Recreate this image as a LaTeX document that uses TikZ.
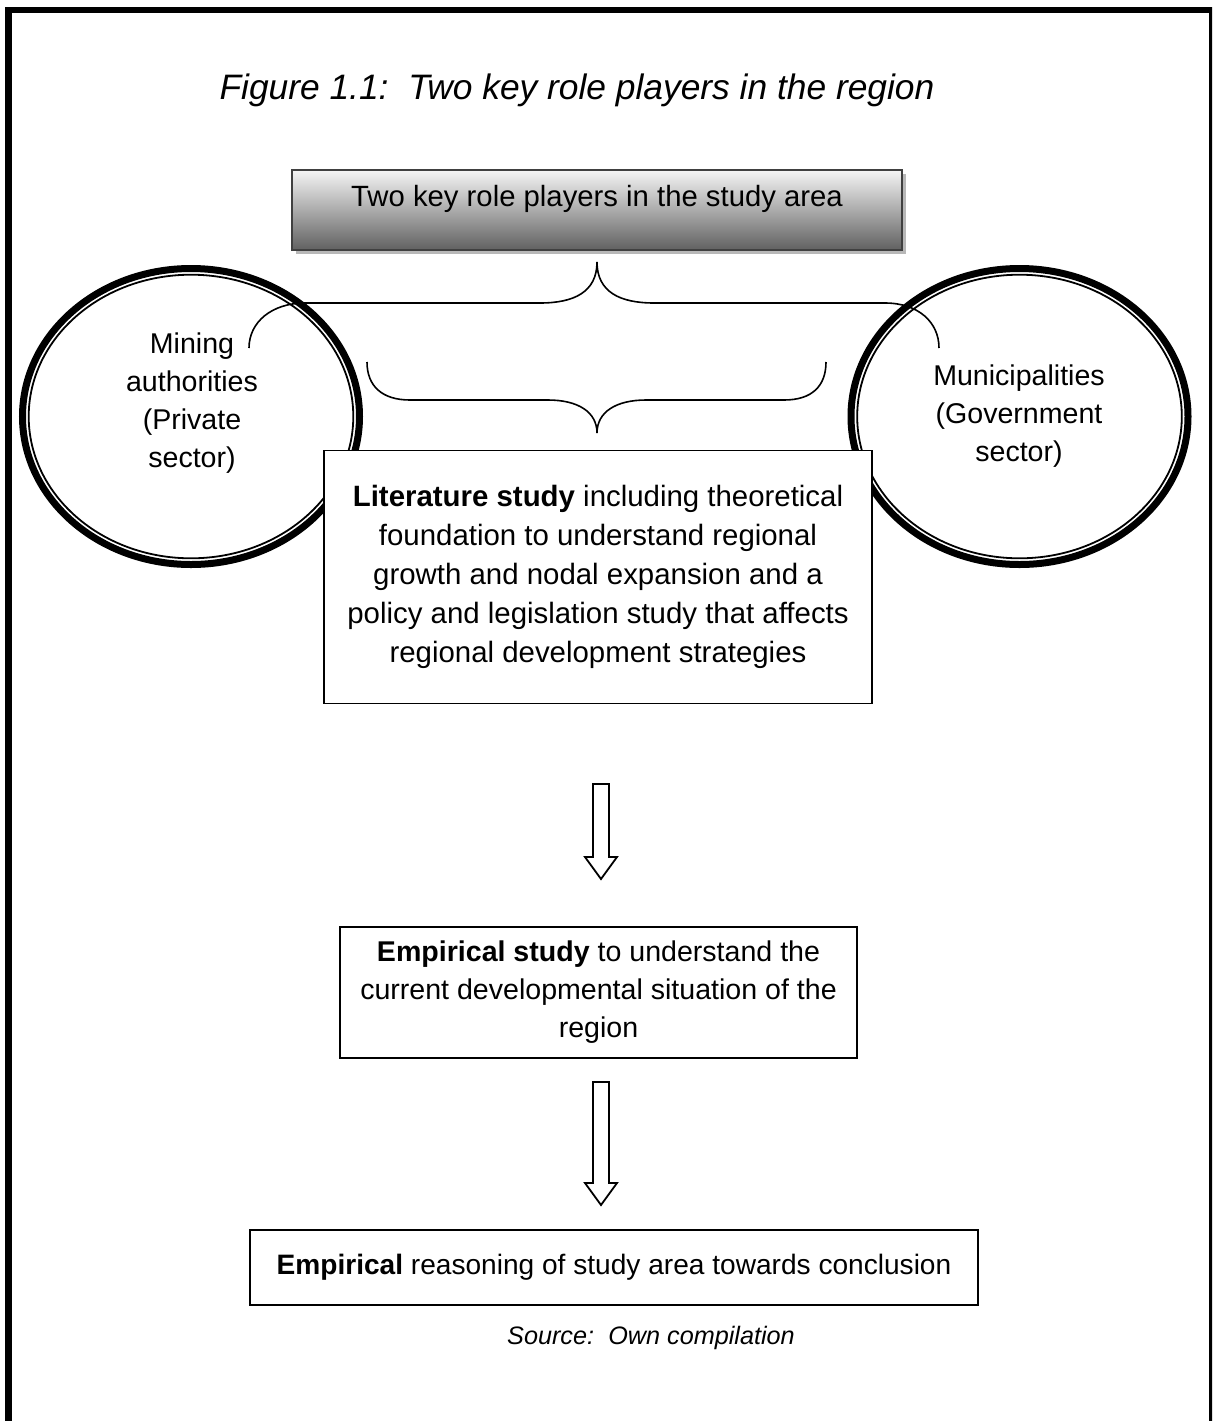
\documentclass[tikz,border=0pt]{standalone}
\usepackage{fontspec}
\setmainfont{Liberation Sans}
\usetikzlibrary{shapes.geometric}
\newlength{\pxu}
\setlength{\pxu}{0.42pt}
\begin{document}
\begin{tikzpicture}[x=0.42pt,y=-0.42pt,
  body/.style={font=\fontsize{12}{15.95}\selectfont, align=center, inner sep=0pt},
  plainbox/.style={draw, line width=1.8\pxu, fill=white, body},
  ringnode/.style={ellipse, draw, fill=white, line width=7\pxu, inner sep=0pt,
                   minimum width=337\pxu, minimum height=296\pxu},
  innerring/.style={line width=1.8\pxu},
  brace/.style={line width=1.6\pxu},
  blockarrow/.style={draw, line width=1.8\pxu, fill=white, line join=miter}]
\useasboundingbox (0,0) rectangle (1212,1421);
\clip (0,0) rectangle (1212,1421);

% outer frame, open at the bottom
\draw[line width=6.7\pxu] (8.7,1440) -- (8.7,10) -- (1212.6,10) -- (1212.6,1440);

% caption
\node[font=\fontsize{14.85}{17}\selectfont\itshape, inner sep=0pt] (title) at (577,90)
  {Figure 1.1:\hspace{0.56em}Two key role players in the region};

% the two role players
\node[ringnode] (mining) at (191,416.5) {};
\draw[innerring] (mining.center) ellipse [x radius=162.3\pxu, y radius=141.8\pxu];
\node[body] (miningtext) at (192,403) {Mining\\authorities\\(Private\\sector)};

\node[ringnode] (munic) at (1019.5,416.5) {};
\draw[innerring] (munic.center) ellipse [x radius=162.3\pxu, y radius=141.8\pxu];
\node[body] (munictext) at (1019,416) {Municipalities\\(Government\\sector)};

% heading box with drop shadow and gradient
\fill[black!28] (296,174) rectangle (906,254);
\node[draw=black!75, line width=2\pxu, top color=black!4, bottom color=black!62,
      minimum width=610\pxu, minimum height=80\pxu, body,
      font=\fontsize{12.3}{15.95}\selectfont, text depth=12pt] (players)
  at (597,210) {Two key role players in the study area};

% brace opening up towards the heading box
\coordinate (tipA) at (597,262);
\draw[brace] (249,348) .. controls (249,322) and (272,303) .. (305,303)
  -- (540,303) .. controls (574,303) and (597,292) .. (tipA)
  .. controls (597,292) and (620,303) .. (654,303)
  -- (885,303) .. controls (918,303) and (939,322) .. (939,348);

% brace pointing down to the literature study
\coordinate (tipB) at (597,433);
\draw[brace] (367,362) .. controls (367,386) and (382,400) .. (410,400)
  -- (548,400) .. controls (578,400) and (597,412) .. (tipB)
  .. controls (597,412) and (616,400) .. (646,400)
  -- (784,400) .. controls (812,400) and (826,386) .. (826,362);

% study stages
\node[plainbox, minimum width=548\pxu, minimum height=253\pxu,
      font=\fontsize{12.35}{16.3}\selectfont] (lit) at (598,577)
  {\textbf{Literature study} including theoretical\\
   foundation to understand regional\\
   growth and nodal expansion and a\\
   policy and legislation study that affects\\
   regional development strategies};

\node[plainbox, minimum width=517\pxu, minimum height=131\pxu] (emp) at (598.5,992.5)
  {\textbf{Empirical study} to understand the\\
   current developmental situation of the\\
   region};

\node[plainbox, minimum width=728\pxu, minimum height=75\pxu,
      font=\fontsize{11.8}{15.5}\selectfont] (reason) at (614,1267.5)
  {\textbf{Empirical} reasoning of study area towards conclusion};

% hollow block arrows between the stages
\draw[blockarrow] (593,784) -- (609,784) -- (609,857) -- (617,857) -- (601,879)
  -- (585,857) -- (593,857) -- cycle;
\draw[blockarrow] (593,1082) -- (609,1082) -- (609,1183) -- (617,1183) -- (601,1205)
  -- (585,1183) -- (593,1183) -- cycle;

% source line
\node[font=\fontsize{10.6}{13}\selectfont\itshape, inner sep=0pt] (source) at (651,1338)
  {Source:\hspace{0.56em}Own compilation};
\end{tikzpicture}
\end{document}
